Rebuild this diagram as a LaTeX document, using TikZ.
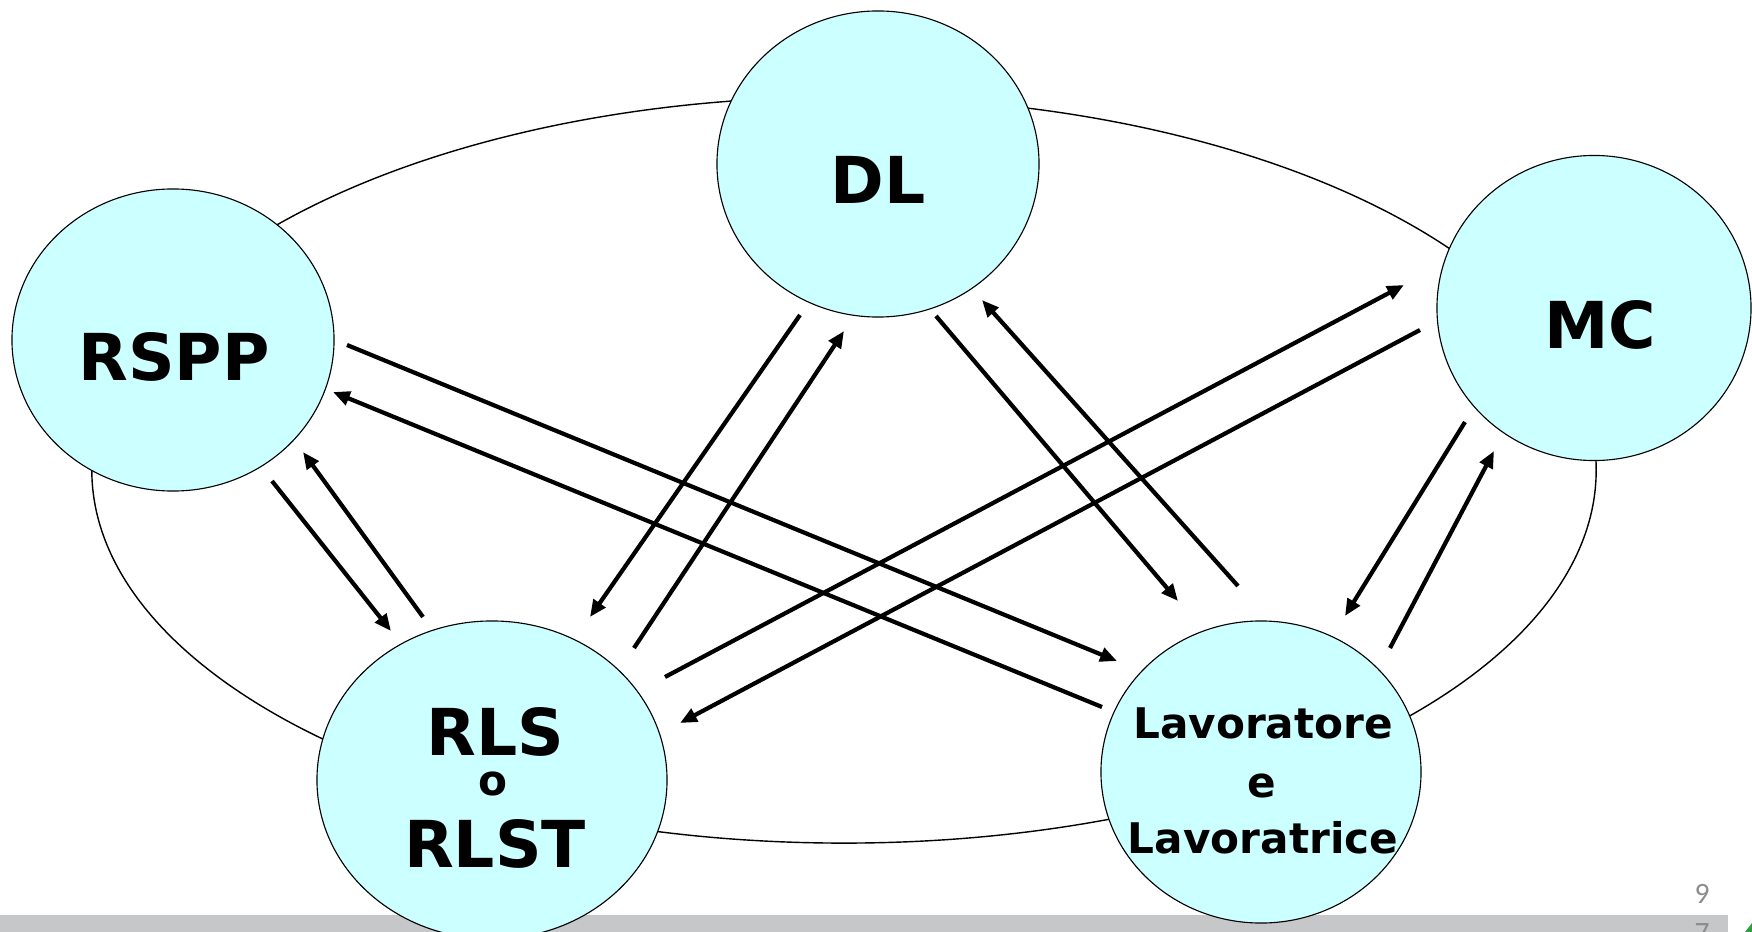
\documentclass[tikz,border=0pt]{standalone}
\usepackage{fontspec}
\setsansfont{DejaVu Sans}
\newfontfamily\pagefont{Carlito}
\usetikzlibrary{arrows.meta,shapes.geometric}
\definecolor{bubblefill}{HTML}{CCFFFF}
\definecolor{footbar}{HTML}{C6C7C9}
\definecolor{pagegray}{HTML}{8C8C8C}
\definecolor{logogreen}{HTML}{2E9E3E}

\begin{document}
\begin{tikzpicture}[x=0.025cm, y=-0.025cm,
  >={Triangle[length=12pt,width=10pt]},
  bub/.style={draw, ellipse, line width=0.8pt, fill=bubblefill, inner sep=0pt},
  big/.style={font=\sffamily\bfseries\fontsize{46}{50}\selectfont, anchor=base, inner sep=0pt},
  sml/.style={font=\sffamily\bfseries\fontsize{30}{34}\selectfont, anchor=base, inner sep=0pt},
  pg/.style={font=\pagefont\fontsize{21}{24}\selectfont, text=pagegray, anchor=base, inner sep=0pt},
  arr/.style={->, line width=3pt},
  ring/.style={line width=1pt}]
\useasboundingbox (0,0) rectangle (1752,932);
% footer strip
\fill[footbar] (0,915) rectangle (1728,932);
\fill[logogreen] (1745,932) -- (1752,923) -- (1752,932) -- cycle;
% ring behind the five roles
\draw[ring] (844,470) ellipse [x radius=18.8cm, y radius=9.325cm];
% roles
\node[bub, minimum width=8.05cm, minimum height=7.65cm] (dl) at (878,164) {};
\node[bub, minimum width=8.05cm, minimum height=7.55cm] (rspp) at (173,340) {};
\node[bub, minimum width=7.85cm, minimum height=7.625cm] (mc) at (1594,308) {};
\node[bub, minimum width=8.75cm, minimum height=7.95cm] (rls) at (492,780) {};
\node[bub, minimum width=8.0cm, minimum height=7.55cm] (lav) at (1261,772) {};
% labels
\node[big] (dl-t) at (878,204) {DL};
\node[big] (rspp-t) at (174,380) {RSPP};
\node[big] (mc-t) at (1600,349) {MC};
\node[big] (rls-a) at (495,755) {RLS};
\node[sml] (rls-o) at (493,795) {o};
\node[big] (rls-b) at (495,867) {RLST};
\node[sml] (lav-a) at (1263,738) {Lavoratore};
\node[sml] (lav-e) at (1262,797) {e};
\node[sml] (lav-b) at (1263,853) {Lavoratrice};
% arrows, in pairs
\draw[arr] ([shift={(174,5)}]rspp.center) -- ([shift={(-144,-111)}]lav.center);
\draw[arr] ([shift={(-159,-65)}]lav.center) -- ([shift={(160,52)}]rspp.center);
\draw[arr] ([shift={(99,141)}]rspp.center) -- ([shift={(-101,-149)}]rls.center);
\draw[arr] ([shift={(-69,-163)}]rls.center) -- ([shift={(130,112)}]rspp.center);
\draw[arr] ([shift={(-78,151)}]dl.center) -- ([shift={(98,-163)}]rls.center);
\draw[arr] ([shift={(142,-132)}]rls.center) -- ([shift={(-34,167)}]dl.center);
\draw[arr] ([shift={(58,152)}]dl.center) -- ([shift={(-83,-171)}]lav.center);
\draw[arr] ([shift={(-23,-186)}]lav.center) -- ([shift={(104,136)}]dl.center);
\draw[arr] ([shift={(173,-103)}]rls.center) -- ([shift={(-190,-23)}]mc.center);
\draw[arr] ([shift={(-174,22)}]mc.center) -- ([shift={(188,-57)}]rls.center);
\draw[arr] ([shift={(-129,114)}]mc.center) -- ([shift={(84,-156)}]lav.center);
\draw[arr] ([shift={(129,-124)}]lav.center) -- ([shift={(-100,143)}]mc.center);
% page number
\node[pg] (pg-a) at (1702,903) {9};
\node[pg] (pg-b) at (1702,942) {7};
\end{tikzpicture}
\end{document}
